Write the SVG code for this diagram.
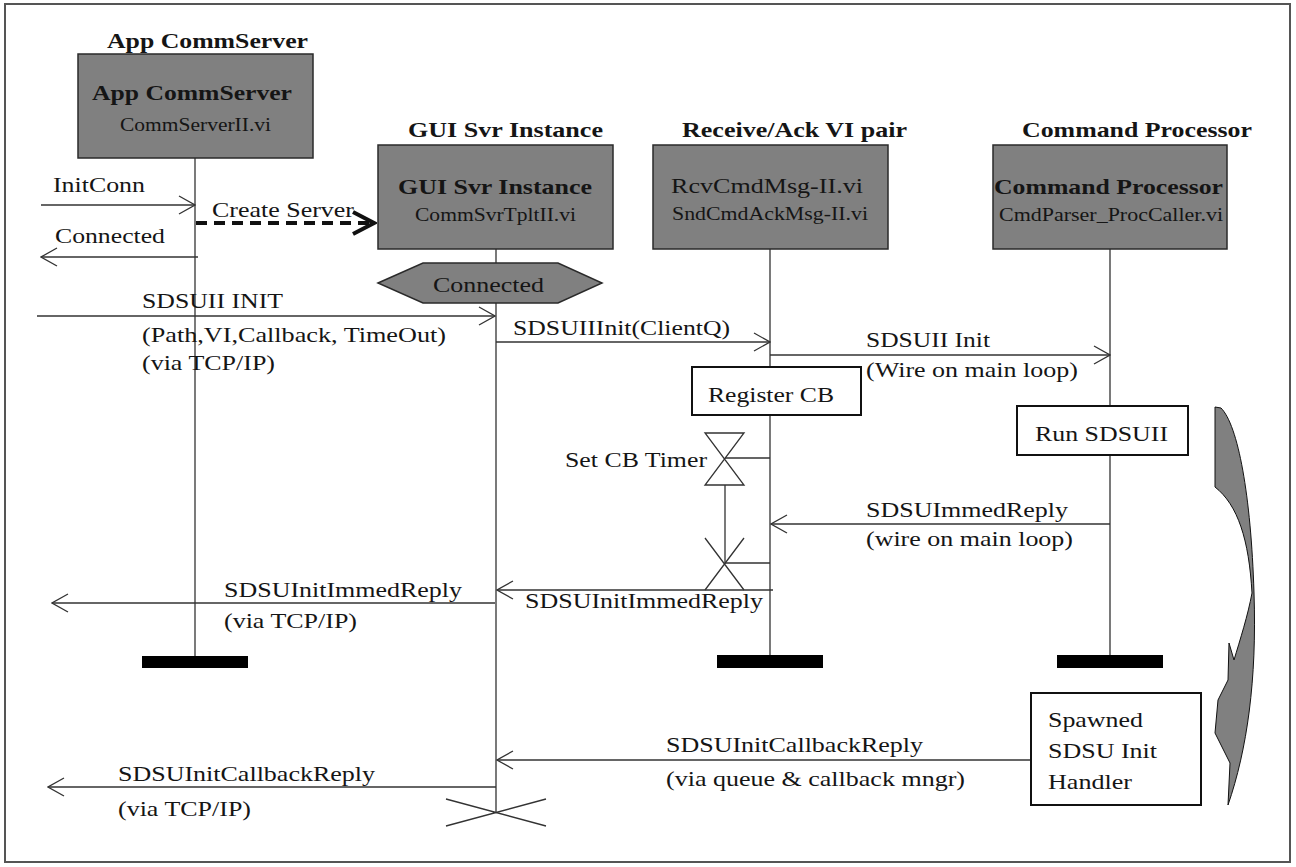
<svg xmlns="http://www.w3.org/2000/svg" width="1296" height="867" viewBox="0 0 1296 867">
<style>
  text { font-family: "Liberation Serif", "Times New Roman", serif; fill: #151515; }
  .t { font-size: 22px; }
  .b { font-size: 22px; font-weight: bold; }
  .s { font-size: 18px; }
  .head { fill: #808080; stroke: #2a2a2a; stroke-width: 1.5; }
  .act { fill: #ffffff; stroke: #111111; stroke-width: 2; }
  .ln { fill: none; stroke: #333333; stroke-width: 1.3; }
  .bar { fill: #000000; }
</style>
<defs>
  <marker id="open" markerUnits="userSpaceOnUse" viewBox="0 0 18 20" refX="17" refY="10" markerWidth="18" markerHeight="20" orient="auto">
    <path d="M1,1 L17,10 L1,19" fill="none" stroke="#333333" stroke-width="1.3"/>
  </marker>
  <marker id="thick" markerUnits="userSpaceOnUse" viewBox="0 0 26 28" refX="23" refY="14" markerWidth="26" markerHeight="28" orient="auto">
    <path d="M2,3 L23,14 L2,25" fill="none" stroke="#111111" stroke-width="4"/>
  </marker>
</defs>

<rect x="5" y="4" width="1285" height="858" fill="#ffffff" stroke="#555555" stroke-width="2"/>

<g id="connectors">
  <!-- lifelines -->
  <path class="ln" d="M195,158 V656"/>
  <path class="ln" d="M496,249 V263 M496,303 V813"/>
  <path class="ln" d="M770,249 V367 M770,415 V655"/>
  <path class="ln" d="M1110,249 V406 M1110,455 V655"/>
  <!-- messages -->
  <path class="ln" d="M41,205 H195" marker-end="url(#open)"/>
  <path class="ln" d="M198,257 H41" marker-end="url(#open)"/>
  <path d="M196,223 H374" fill="none" stroke="#111111" stroke-width="4" stroke-dasharray="11 7" marker-end="url(#thick)"/>
  <path class="ln" d="M37,316 H495" marker-end="url(#open)"/>
  <path class="ln" d="M496,342 H770" marker-end="url(#open)"/>
  <path class="ln" d="M770,355 H1110" marker-end="url(#open)"/>
  <path class="ln" d="M1110,524 H771" marker-end="url(#open)"/>
  <path class="ln" d="M725,458 H770 M725,485 V563 M725,563 H770"/>
  <path class="ln" d="M773,590 H497" marker-end="url(#open)"/>
  <path class="ln" d="M495,603 H52" marker-end="url(#open)"/>
  <path class="ln" d="M1031,760 H497" marker-end="url(#open)"/>
  <path class="ln" d="M496,787 H48" marker-end="url(#open)"/>
</g>

<g id="frame-titles">
  <text class="b" x="107" y="48" textLength="201" lengthAdjust="spacingAndGlyphs">App CommServer</text>
  <text class="b" x="408" y="137" textLength="195" lengthAdjust="spacingAndGlyphs">GUI Svr Instance</text>
  <text class="b" x="682" y="137" textLength="225" lengthAdjust="spacingAndGlyphs">Receive/Ack VI pair</text>
  <text class="b" x="1022" y="137" textLength="230" lengthAdjust="spacingAndGlyphs">Command Processor</text>
</g>

<g id="app-commserver">
  <rect class="head" x="78" y="54" width="235" height="104"/>
  <text class="b" x="92" y="100" textLength="200" lengthAdjust="spacingAndGlyphs">App CommServer</text>
  <text class="s" x="120" y="131" textLength="151" lengthAdjust="spacingAndGlyphs">CommServerII.vi</text>
</g>

<g id="gui-svr-instance">
  <rect class="head" x="378" y="145" width="235" height="104"/>
  <text class="b" x="398" y="194" textLength="194" lengthAdjust="spacingAndGlyphs">GUI Svr Instance</text>
  <text class="s" x="415" y="221" textLength="161" lengthAdjust="spacingAndGlyphs">CommSvrTpltII.vi</text>
</g>

<g id="receive-ack">
  <rect class="head" x="653" y="145" width="235" height="104"/>
  <text class="t" x="671" y="193" textLength="192" lengthAdjust="spacingAndGlyphs">RcvCmdMsg-II.vi</text>
  <text class="s" x="672" y="220" textLength="196" lengthAdjust="spacingAndGlyphs">SndCmdAckMsg-II.vi</text>
</g>

<g id="command-processor">
  <rect class="head" x="993" y="145" width="234" height="104"/>
  <text class="b" x="994" y="194" textLength="229" lengthAdjust="spacingAndGlyphs">Command Processor</text>
  <text class="s" x="999" y="221" textLength="224" lengthAdjust="spacingAndGlyphs">CmdParser_ProcCaller.vi</text>
</g>

<g id="connected-state">
  <polygon class="head" points="378,283 423,263 558,263 602,283 558,303 423,303"/>
  <text class="t" x="433" y="292" textLength="111" lengthAdjust="spacingAndGlyphs">Connected</text>
</g>

<g id="register-cb">
  <rect class="act" x="692" y="367" width="169" height="48"/>
  <text class="t" x="708" y="402" textLength="126" lengthAdjust="spacingAndGlyphs">Register CB</text>
</g>

<g id="run-sdsuii">
  <rect class="act" x="1017" y="406" width="171" height="49"/>
  <text class="t" x="1035" y="441" textLength="133" lengthAdjust="spacingAndGlyphs">Run SDSUII</text>
</g>

<g id="spawned-handler">
  <rect class="act" x="1031" y="693" width="170" height="112"/>
  <text class="t" x="1048" y="727" textLength="95" lengthAdjust="spacingAndGlyphs">Spawned</text>
  <text class="t" x="1048" y="758" textLength="109" lengthAdjust="spacingAndGlyphs">SDSU Init</text>
  <text class="t" x="1048" y="789" textLength="84" lengthAdjust="spacingAndGlyphs">Handler</text>
</g>

<g id="set-cb-timer">
  <path class="ln" d="M705,433 L744,433 L705,485 L744,485 Z"/>
  <text class="t" x="565" y="467" textLength="142" lengthAdjust="spacingAndGlyphs">Set CB Timer</text>
</g>

<g id="timer-expire">
  <path class="ln" d="M705,538 L744,590 M744,538 L705,590"/>
</g>

<g id="gui-destroy">
  <path class="ln" d="M446,799 L546,826 M446,826 L546,799"/>
</g>

<g id="end-bars">
  <rect class="bar" x="142" y="656" width="106" height="12"/>
  <rect class="bar" x="717" y="655" width="106" height="13"/>
  <rect class="bar" x="1057" y="655" width="106" height="13"/>
</g>

<g id="flow-arrow">
  <path d="M1215,407 L1221,408 C1238,425 1251,495 1254,593 C1257,680 1247,750 1228,805 L1230,763 L1215,733 L1218,700 L1228,680 L1229,643 L1234,660 C1240,640 1248,615 1252,593 C1249,540 1238,505 1215,487 Z" fill="#808080" stroke="#111111" stroke-width="1"/>
</g>

<g id="labels">
  <text class="t" x="53" y="192" textLength="92" lengthAdjust="spacingAndGlyphs">InitConn</text>
  <text class="t" x="212" y="217" textLength="142" lengthAdjust="spacingAndGlyphs">Create Server</text>
  <text class="t" x="55" y="243" textLength="110" lengthAdjust="spacingAndGlyphs">Connected</text>
  <text class="t" x="142" y="308" textLength="141" lengthAdjust="spacingAndGlyphs">SDSUII INIT</text>
  <text class="t" x="142" y="342" textLength="304" lengthAdjust="spacingAndGlyphs">(Path,VI,Callback, TimeOut)</text>
  <text class="t" x="142" y="370" textLength="133" lengthAdjust="spacingAndGlyphs">(via TCP/IP)</text>
  <text class="t" x="513" y="335" textLength="217" lengthAdjust="spacingAndGlyphs">SDSUIIInit(ClientQ)</text>
  <text class="t" x="866" y="347" textLength="124" lengthAdjust="spacingAndGlyphs">SDSUII Init</text>
  <text class="t" x="866" y="377" textLength="212" lengthAdjust="spacingAndGlyphs">(Wire on main loop)</text>
  <text class="t" x="866" y="517" textLength="202" lengthAdjust="spacingAndGlyphs">SDSUImmedReply</text>
  <text class="t" x="866" y="546" textLength="207" lengthAdjust="spacingAndGlyphs">(wire on main loop)</text>
  <text class="t" x="525" y="608" textLength="238" lengthAdjust="spacingAndGlyphs">SDSUInitImmedReply</text>
  <text class="t" x="224" y="597" textLength="238" lengthAdjust="spacingAndGlyphs">SDSUInitImmedReply</text>
  <text class="t" x="224" y="628" textLength="133" lengthAdjust="spacingAndGlyphs">(via TCP/IP)</text>
  <text class="t" x="666" y="752" textLength="257" lengthAdjust="spacingAndGlyphs">SDSUInitCallbackReply</text>
  <text class="t" x="666" y="786" textLength="299" lengthAdjust="spacingAndGlyphs">(via queue &amp; callback mngr)</text>
  <text class="t" x="118" y="781" textLength="257" lengthAdjust="spacingAndGlyphs">SDSUInitCallbackReply</text>
  <text class="t" x="118" y="816" textLength="133" lengthAdjust="spacingAndGlyphs">(via TCP/IP)</text>
</g>
</svg>
